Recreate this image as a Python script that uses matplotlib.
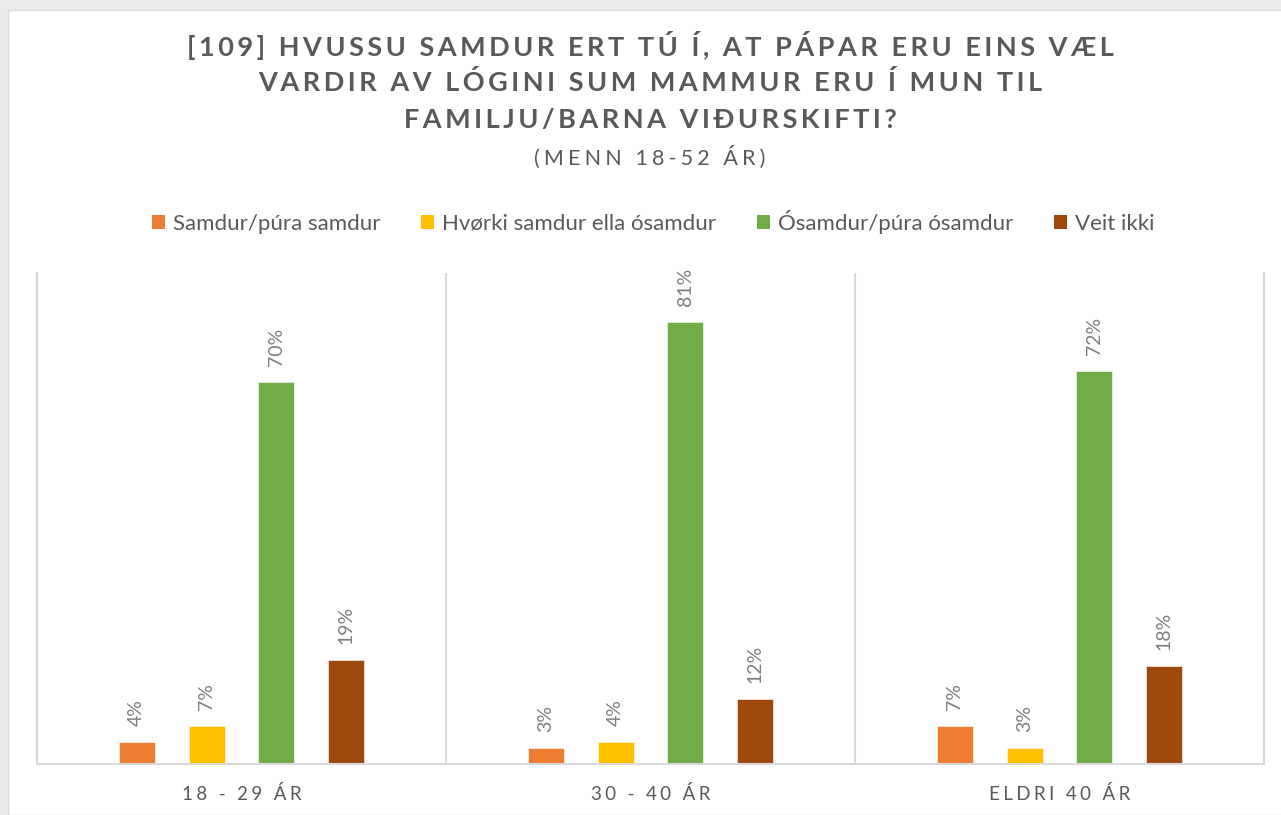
import matplotlib
matplotlib.use("Agg")
import matplotlib.pyplot as plt
from matplotlib.patches import Rectangle, Patch
import numpy as np

# Data
categories = ["18 - 29 ÁR", "30 - 40 ÁR", "ELDRI 40 ÁR"]
series_names = ["Samdur/púra samdur", "Hvørki samdur ella ósamdur",
                "Ósamdur/púra ósamdur", "Veit ikki"]
samdur = [4, 3, 7]
hvorki = [7, 4, 3]
osamdur = [70, 81, 72]
veit_ikki = [19, 12, 18]
title_lines = ["[109] HVUSSU SAMDUR ERT TÚ Í, AT PÁPAR ERU EINS VÆL",
               "VARDIR AV LÓGINI SUM MAMMUR ERU Í MUN TIL",
               "FAMILJU/BARNA VIÐURSKIFTI?"]
subtitle = "(MENN 18-52 ÁR)"

series = [samdur, hvorki, osamdur, veit_ikki]
colors = ["#ED7D31", "#FFC000", "#70AD47", "#9E480E"]
TEXT = "#595959"
LABEL = "#7F7F7F"
GRID = "#D9D9D9"
FAM = ["Lato", "DejaVu Sans"]
HAIR = "\u200a"


def spaced(s, n=1):
    return (HAIR * n).join(s)


W, H = 1281, 815
fig = plt.figure(figsize=(W / 100, H / 100), dpi=100, facecolor="#EBEBEB")

# white chart panel
fig.patches.append(Rectangle((8 / W, 0), 1 - 8 / W + 0.01, (H - 10) / H,
                             transform=fig.transFigure, facecolor="white",
                             edgecolor=GRID, linewidth=1.0, zorder=-5))

ax = fig.add_axes([37 / W, (H - 764) / H, (1264 - 37) / W, (764 - 273) / H])
ax.set_facecolor("none")
ax.set_zorder(2)

x = np.arange(len(categories))
step = 0.171
width = 0.088
offsets = (np.arange(len(series)) - 1.5) * step
for vals, off, col in zip(series, offsets, colors):
    bars = ax.bar(x + off, vals, width=width, color=col, edgecolor="white",
                  linewidth=0.4, zorder=2)
    for b, v in zip(bars, vals):
        ax.annotate(f"{v}%", (b.get_x() + b.get_width() / 2, v),
                    xytext=(0, 11.5), textcoords="offset points",
                    rotation=90, ha="center", va="bottom",
                    fontsize=14, color=LABEL, family=FAM)

ax.set_xlim(-0.5, len(categories) - 0.5)
ax.set_ylim(0, 90)
ax.set_yticks([])
ax.set_xticks(x)
ax.set_xticklabels([spaced(c, 3) for c in categories], fontsize=13.5,
                   color=TEXT, family=FAM)
ax.tick_params(axis="x", length=0, pad=15)
ax.spines["top"].set_visible(False)
for s in ["left", "right", "bottom"]:
    ax.spines[s].set_color(GRID)
    ax.spines[s].set_linewidth(1.5)
for sep in x[:-1] + 0.5:
    ax.axvline(sep, color=GRID, linewidth=1.5, zorder=1)

# title block
cx = 650 / W
for i, line in enumerate(title_lines):
    fig.text(cx, 1 - (45 + 37.5 * i) / H, spaced(line, 2), ha="center",
             va="center", fontsize=19.5, fontweight="bold", color=TEXT,
             family=FAM)
fig.text(cx, 1 - 157 / H, spaced(subtitle, 3), ha="center", va="center",
         fontsize=15.5, color=TEXT, family=FAM)

handles = [Patch(facecolor=c, edgecolor="none") for c in colors]
fig.legend(handles, series_names, loc="center", bbox_to_anchor=(653 / W, 1 - 222 / H),
           ncol=4, frameon=False, handlelength=0.6,
           handleheight=0.6, handletextpad=0.35, columnspacing=1.83,
           prop={"family": FAM, "size": 16}, labelcolor=TEXT)

fig.savefig("out.png", dpi=100, facecolor=fig.get_facecolor())
